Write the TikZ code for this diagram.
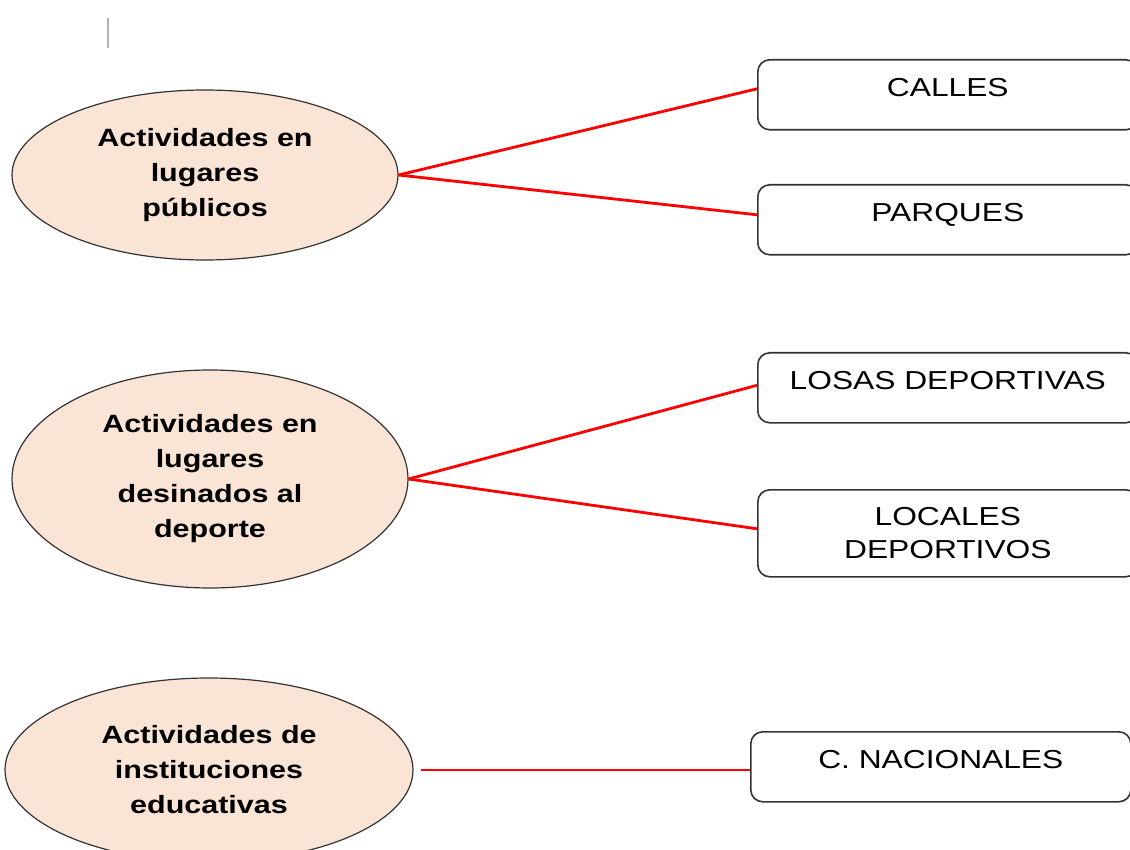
\documentclass[tikz,border=0pt]{standalone}
\usepackage{fontspec}
\setmainfont{Liberation Sans}
\newfontfamily\widefont[FakeStretch=1.22]{Liberation Sans}
\usepackage{xcolor}
\definecolor{peach}{RGB}{250,228,214}
\usetikzlibrary{positioning,shapes.geometric}

\begin{document}
\begin{tikzpicture}[
    x=1pt, y=-1pt,
    actividad/.style={
        ellipse,
        draw=black!80,
        fill=peach,
        line width=1.2pt,
        inner sep=0pt,
        align=center,
        font=\widefont\bfseries\fontsize{25}{35}\selectfont
    },
    lugar/.style={
        rectangle,
        draw=black!80,
        line width=1.6pt,
        rounded corners=12pt,
        minimum width=380pt,
        minimum height=70pt,
        anchor=north west,
        align=center,
        font=\widefont\fontsize{26}{33}\selectfont
    },
    arriba/.style={text height=19pt, text depth=16pt},
    enlace/.style={red, line width=2.8pt}
]

\clip (0,0) rectangle (1130,850);

\draw[black!30, line width=1.2pt] (108,18) -- (108,48);

\node[actividad, minimum width=386pt, minimum height=170pt] (publicos) at (205,175)
{Actividades en\\ lugares\\ públicos};

\node[actividad, minimum width=396pt, minimum height=218pt] (deporte) at (210,479)
{Actividades en\\ lugares\\ desinados al\\ deporte};

\node[actividad, minimum width=408pt, minimum height=184pt] (educativas) at (209,770)
{Actividades de\\ instituciones\\ educativas};

\node[lugar, arriba] (calles) at (757,59) {CALLES};
\node[lugar, arriba] (parques) at (757,184) {PARQUES};
\node[lugar, arriba] (losas) at (757,352) {LOSAS DEPORTIVAS};
\node[lugar, minimum height=87pt] (locales) at (757,489) {LOCALES\\ DEPORTIVOS};
\node[lugar, arriba] (nacionales) at (750,731) {C. NACIONALES};

\draw[enlace] (publicos.east) -- ([yshift=6pt]calles.west);
\draw[enlace] (publicos.east) -- ([yshift=5pt]parques.west);
\draw[enlace] (deporte.east) -- ([yshift=2.5pt]losas.west);
\draw[enlace] (deporte.east) -- ([yshift=4.5pt]locales.west);
\draw[enlace, shorten <=7pt] (educativas.east) -- (nacionales.west |- educativas.east);

\end{tikzpicture}
\end{document}
